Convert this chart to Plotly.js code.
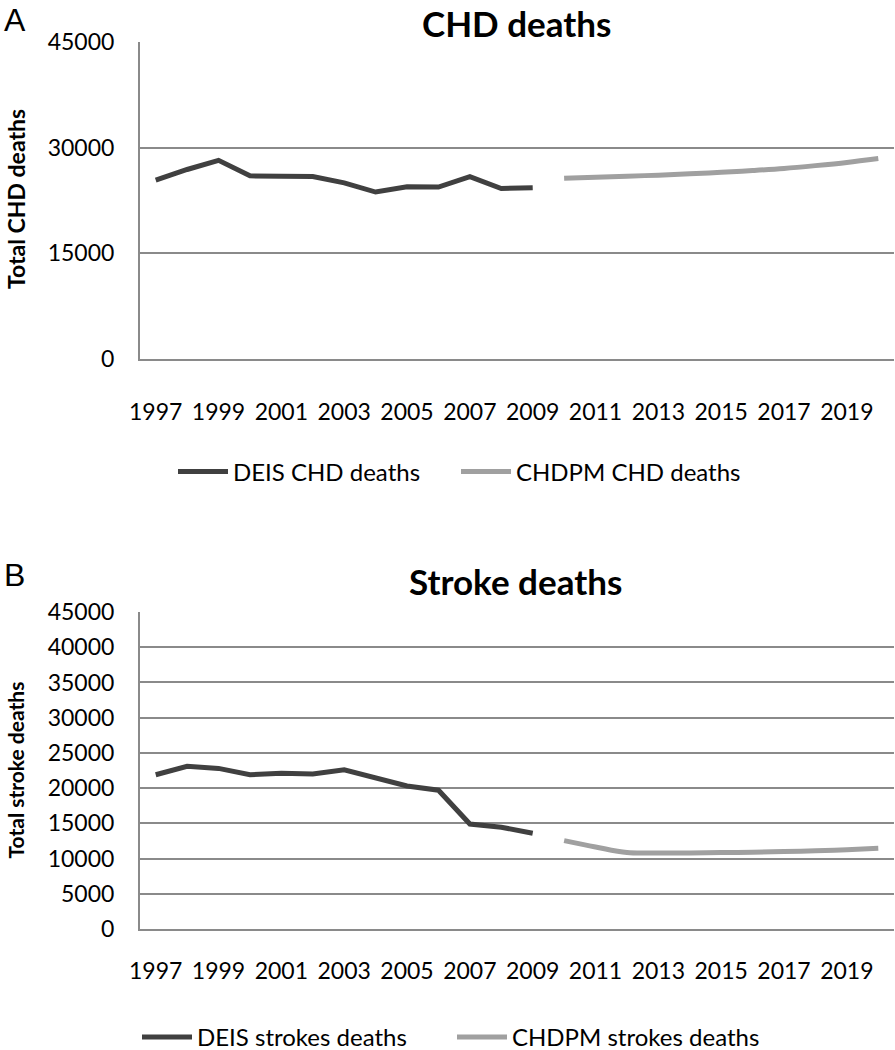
<!DOCTYPE html>
<html>
<head>
<meta charset="utf-8">
<script src="https://cdn.plot.ly/plotly-3.0.1.min.js"></script>
<style>html,body{margin:0;padding:0;background:#fff;}#chart{width:895px;height:1050px;}</style>
</head>
<body>
<div id="chart"></div>
<script>
// ---- data ----
const yearsObserved = [1997,1998,1999,2000,2001,2002,2003,2004,2005,2006,2007,2008,2009];
const yearsProjected = [2010,2011,2012,2013,2014,2015,2016,2017,2018,2019,2020];
const deisChd = [25400,26900,28200,26000,25950,25900,25000,23700,24450,24400,25900,24200,24300];
const chdpmChd = [25650,25800,25950,26100,26300,26500,26750,27050,27450,27900,28450];
const deisStroke = [21900,23100,22800,21900,22100,22000,22600,21400,20300,19700,14900,14450,13600];
const chdpmStroke = [12550,11650,10850,10800,10800,10850,10900,11000,11100,11250,11450];
const xTickVals = [1997,1999,2001,2003,2005,2007,2009,2011,2013,2015,2017,2019];
const yTicksA = [0,15000,30000,45000];
const yTicksB = [0,5000,10000,15000,20000,25000,30000,35000,40000,45000];

const W = 895, H = 1050;
const px = v => v / W;
const py = v => 1 - v / H;
const dark = '#404040', light = '#a0a0a0', grid = '#8a8a8a';
const tickFont = {family: 'Lato, sans-serif', size: 23, color: '#000'};

const traces = [
  {x: yearsObserved, y: deisChd, type: 'scatter', mode: 'lines', name: 'DEIS CHD deaths',
   line: {color: dark, width: 5}, xaxis: 'x', yaxis: 'y', legend: 'legend'},
  {x: yearsProjected, y: chdpmChd, type: 'scatter', mode: 'lines', name: 'CHDPM CHD deaths',
   line: {color: light, width: 5, shape: 'spline'}, xaxis: 'x', yaxis: 'y', legend: 'legend3'},
  {x: yearsObserved, y: deisStroke, type: 'scatter', mode: 'lines', name: 'DEIS strokes deaths',
   line: {color: dark, width: 5}, xaxis: 'x2', yaxis: 'y2', legend: 'legend2'},
  {x: yearsProjected, y: chdpmStroke, type: 'scatter', mode: 'lines', name: 'CHDPM strokes deaths',
   line: {color: light, width: 5, shape: 'spline'}, xaxis: 'x2', yaxis: 'y2', legend: 'legend2'}
];

const xCommon = {
  range: [1996.5, 2020.5], domain: [px(140), px(894)],
  tickmode: 'array', tickvals: xTickVals, ticktext: xTickVals.map(String),
  showgrid: false, zeroline: false, showline: true, linecolor: grid, linewidth: 2,
  ticks: '', tickfont: tickFont, fixedrange: true
};
const yCommon = {
  range: [0, 45000], showgrid: true, gridcolor: grid, gridwidth: 2,
  zeroline: false, showline: true, linecolor: grid, linewidth: 2,
  ticks: '', tickfont: tickFont, ticklabelstandoff: 19, fixedrange: true
};

const legendFont = {family: 'Lato, sans-serif', size: 24, color: '#000'};
const legendBase = {orientation: 'h', xanchor: 'left', yanchor: 'middle', font: legendFont,
                    itemwidth: 50, bgcolor: 'rgba(0,0,0,0)'};

const layout = {
  width: W, height: H,
  margin: {l: 0, r: 0, t: 0, b: 0, autoexpand: false},
  paper_bgcolor: '#fff', plot_bgcolor: '#fff',
  font: {family: 'Lato, sans-serif', color: '#000'},
  xaxis: Object.assign({}, xCommon, {anchor: 'y', ticklabelstandoff: 31}),
  yaxis: Object.assign({}, yCommon, {domain: [py(359), py(42)], anchor: 'x', tickmode: 'array', tickvals: yTicksA, ticktext: yTicksA.map(String)}),
  xaxis2: Object.assign({}, xCommon, {anchor: 'y2', ticklabelstandoff: 20}),
  yaxis2: Object.assign({}, yCommon, {domain: [py(929), py(612)], anchor: 'x2', tickmode: 'array', tickvals: yTicksB, ticktext: yTicksB.map(String)}),
  showlegend: true,
  legend: Object.assign({}, legendBase, {x: px(173), y: py(472)}),
  legend3: Object.assign({}, legendBase, {x: px(456), y: py(472)}),
  legend2: Object.assign({}, legendBase, {x: px(137), y: py(1060), yanchor: 'bottom',
           entrywidth: 250, entrywidthmode: 'pixels'}),
  annotations: [
    {text: 'A', x: px(15), y: 1, xref: 'paper', yref: 'paper', showarrow: false,
     xanchor: 'center', yanchor: 'top', font: {family: 'Liberation Sans, Arial, sans-serif', size: 32, color: '#000'}},
    {text: 'B', x: px(14), y: py(555), xref: 'paper', yref: 'paper', showarrow: false,
     xanchor: 'center', yanchor: 'top', font: {family: 'Liberation Sans, Arial, sans-serif', size: 32, color: '#000'}},
    {text: '<b>CHD deaths</b>', x: px(516), y: 1, xref: 'paper', yref: 'paper', showarrow: false,
     xanchor: 'center', yanchor: 'top', font: {family: 'Lato, sans-serif', size: 35, color: '#000'}},
    {text: '<b>Stroke deaths</b>', x: px(515), y: py(558), xref: 'paper', yref: 'paper', showarrow: false,
     xanchor: 'center', yanchor: 'top', font: {family: 'Lato, sans-serif', size: 35, color: '#000'}},
    {text: '<b>Total CHD deaths</b>', x: 0, y: py(199), xref: 'paper', yref: 'paper', showarrow: false,
     textangle: -90, xanchor: 'left', yanchor: 'middle', font: {family: 'Lato, sans-serif', size: 23, color: '#000'}},
    {text: '<b>Total stroke deaths</b>', x: 0, y: py(770), xref: 'paper', yref: 'paper', showarrow: false,
     textangle: -90, xanchor: 'left', yanchor: 'middle', font: {family: 'Lato, sans-serif', size: 21, color: '#000'}}
  ]
};

Plotly.newPlot('chart', traces, layout, {displayModeBar: false, staticPlot: true});
</script>
</body>
</html>
